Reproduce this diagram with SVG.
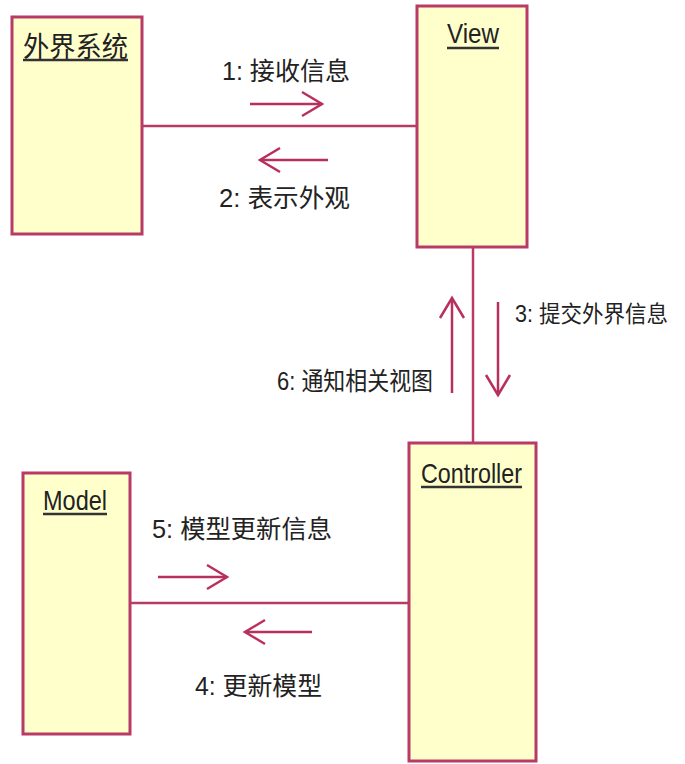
<svg xmlns="http://www.w3.org/2000/svg" width="685" height="764" viewBox="0 0 685 764">
<style>
.box{fill:#ffffcc;stroke:#b83a66;stroke-width:3}
.title{font-family:"Liberation Sans","Noto Sans CJK SC",sans-serif;font-size:28px;fill:#222}
.ul{stroke:#333;stroke-width:2.5}
.conn{stroke:#b83a66;stroke-width:2.5;fill:none}
.msg{stroke:#b8305e;stroke-width:2.5;fill:none;marker-end:url(#open)}
.lbl{font-family:"Liberation Sans","Noto Sans CJK SC",sans-serif;font-size:25px;fill:#222}
</style>
<defs>
<marker id="open" markerUnits="userSpaceOnUse" markerWidth="26" markerHeight="30" refX="21" refY="13" orient="auto" overflow="visible">
<path d="M1,1 L21,13 L1,25" fill="none" stroke="#b8305e" stroke-width="2.5"/>
</marker>
</defs>
<g id="connectors">
<line class="conn" x1="142" y1="126" x2="417" y2="126"/>
<line class="conn" x1="473" y1="247" x2="473" y2="443"/>
<line class="conn" x1="130" y1="603" x2="409" y2="603"/>
<line class="msg" x1="250" y1="104" x2="322" y2="104"/>
<text class="lbl" x="222" y="80" textLength="128" lengthAdjust="spacingAndGlyphs">1: 接收信息</text>
<line class="msg" x1="328" y1="160" x2="260" y2="160"/>
<text class="lbl" x="219" y="207" textLength="131" lengthAdjust="spacingAndGlyphs">2: 表示外观</text>
<line class="msg" x1="498" y1="302" x2="498" y2="395"/>
<text class="lbl" x="515" y="322" style="font-size:23px" textLength="153" lengthAdjust="spacingAndGlyphs">3: 提交外界信息</text>
<line class="msg" x1="452" y1="393" x2="452" y2="298"/>
<text class="lbl" x="277" y="390" textLength="156" lengthAdjust="spacingAndGlyphs">6: 通知相关视图</text>
<line class="msg" x1="158" y1="577" x2="227" y2="577"/>
<text class="lbl" x="152" y="538" textLength="180" lengthAdjust="spacingAndGlyphs">5: 模型更新信息</text>
<line class="msg" x1="312" y1="632" x2="245" y2="632"/>
<text class="lbl" x="195" y="695" textLength="127" lengthAdjust="spacingAndGlyphs">4: 更新模型</text>
</g>
<g id="external">
<rect class="box" x="12" y="17" width="130" height="217"/>
<text class="title" x="23" y="57" textLength="105" lengthAdjust="spacingAndGlyphs">外界系统</text>
<line class="ul" x1="23" y1="60" x2="128" y2="60"/>
</g>
<g id="view">
<rect class="box" x="417" y="6" width="110" height="241"/>
<text class="title" x="447" y="43" textLength="52" lengthAdjust="spacingAndGlyphs">View</text>
<line class="ul" x1="447" y1="48" x2="499" y2="48"/>
</g>
<g id="controller">
<rect class="box" x="409" y="443" width="127" height="318"/>
<text class="title" x="421" y="483" textLength="101" lengthAdjust="spacingAndGlyphs">Controller</text>
<line class="ul" x1="421" y1="487" x2="522" y2="487"/>
</g>
<g id="model">
<rect class="box" x="23" y="473" width="107" height="261"/>
<text class="title" x="43" y="510" textLength="64" lengthAdjust="spacingAndGlyphs">Model</text>
<line class="ul" x1="43" y1="514" x2="107" y2="514"/>
</g>
</svg>
